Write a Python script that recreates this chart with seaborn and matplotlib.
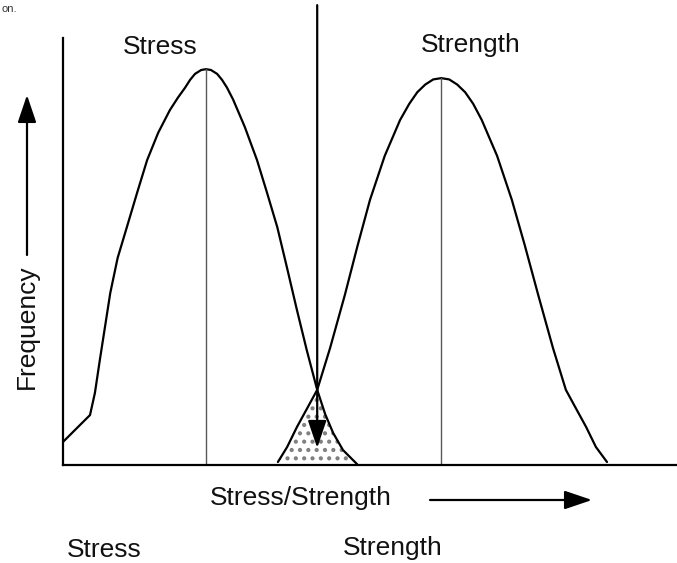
import numpy as np
import pandas as pd
import matplotlib
matplotlib.use("Agg")
import matplotlib.pyplot as plt
import seaborn as sns

# Stress distribution (x: stress/strength units, y: relative frequency)
stress_x = [0.0, 2.3, 4.4, 5.2, 6.0, 7.7, 8.9, 10.4, 12.1, 13.7, 15.5, 17.4, 18.7,
            19.9, 20.7, 21.5, 22.5, 23.3, 24.1, 25.1, 25.9, 26.7, 27.7, 29.6, 31.6,
            33.2, 34.9, 36.5, 38.1, 39.7, 41.4, 42.7, 44.0, 45.6, 47.2, 47.9]
stress_y = [5.4, 8.7, 11.7, 16.9, 24.6, 40.3, 48.5, 55.7, 63.9, 71.4, 77.8, 83.1, 86.0,
            88.4, 90.2, 91.6, 92.5, 92.7, 92.5, 91.6, 90.2, 88.4, 85.6, 79.2, 71.4,
            63.9, 55.7, 46.1, 36.3, 26.9, 17.6, 11.9, 7.5, 3.5, 1.2, 0.2]

# Strength distribution
strength_x = [35.0, 36.5, 38.1, 39.7, 41.4, 43.5, 45.9, 48.0, 50.0, 52.4, 54.9, 56.4,
              57.7, 59.0, 60.3, 61.6, 62.9, 64.2, 65.5, 66.8, 68.2, 70.7, 73.1, 75.2,
              77.4, 79.8, 81.9, 83.6, 85.2, 86.8, 88.6]
strength_y = [0.7, 4.2, 8.9, 13.1, 17.6, 27.4, 39.8, 51.5, 62.1, 72.4, 80.8, 84.6,
              87.3, 89.1, 90.3, 90.6, 90.3, 89.1, 87.3, 84.6, 80.8, 72.4, 62.1, 51.5,
              39.8, 27.4, 17.6, 13.1, 8.9, 4.2, 0.7]

stress_mean = 23.3
strength_mean = 61.6
threshold = 41.4

df = pd.concat([
    pd.DataFrame({"x": stress_x, "y": stress_y, "dist": "Stress"}),
    pd.DataFrame({"x": strength_x, "y": strength_y, "dist": "Strength"}),
])

sns.set_style("white")
plt.rcParams["font.family"] = ["Liberation Sans", "DejaVu Sans"]

W, H = 677, 563
fig = plt.figure(figsize=(W / 100, H / 100), dpi=100)
ax = fig.add_axes([63 / W, (H - 465) / H, (W - 63) / W, (465 - 38) / H])

sns.lineplot(data=df, x="x", y="y", units="dist", estimator=None, sort=False,
             color="black", linewidth=1.6, ax=ax, legend=False)
for ln in ax.get_lines():
    ln.set_solid_joinstyle("round")

# Overlap (interference) region
gx = np.linspace(min(strength_x), max(stress_x), 300)
gy = np.minimum(np.interp(gx, stress_x, stress_y), np.interp(gx, strength_x, strength_y))
plt.rcParams["hatch.linewidth"] = 1.8
ax.fill_between(gx, 0, gy, facecolor="white", edgecolor="0.5", linewidth=0,
                hatch="..", zorder=1)

# Mean lines
ax.plot([stress_mean, stress_mean], [0, max(stress_y)], color="0.35", lw=1.0)
ax.plot([strength_mean, strength_mean], [0, max(strength_y)], color="0.35", lw=1.0)

head = "-|>,head_length=0.65,head_width=0.22"

# Threshold line with arrow
ax.annotate("", xy=(threshold, 4.0), xytext=(threshold, 107.7),
            arrowprops=dict(arrowstyle=head, lw=1.6, color="black",
                            mutation_scale=26, shrinkA=0, shrinkB=0),
            annotation_clip=False, zorder=5)

ax.set_xlim(0, 100)
ax.set_ylim(0, 100)
ax.set_xticks([])
ax.set_yticks([])
ax.set_xlabel("")
ax.set_ylabel("")
for side in ("top", "right"):
    ax.spines[side].set_visible(False)
for side in ("left", "bottom"):
    ax.spines[side].set_color("black")
    ax.spines[side].set_linewidth(1.6)

fs = 19
def ftext(x, y, s, **kw):
    fig.text(x / W, (H - y) / H, s, fontsize=fs, color="#111111",
             ha="center", va="center", **kw)

ftext(160, 47, "Stress")
ftext(471, 45, "Strength")
ftext(301, 498, "Stress/Strength")
ftext(104, 550, "Stress")
ftext(393, 548, "Strength")
ftext(27, 327, "Frequency", rotation=90)
fig.text(1 / W, (H - 9) / H, "on.", fontsize=8, color="#333333", ha="left", va="center")

# Axis direction arrows
arrow = dict(arrowstyle=head, lw=1.6, color="black", mutation_scale=26,
             shrinkA=0, shrinkB=0)
ax.annotate("", xy=(27, H - 95), xytext=(27, H - 255), xycoords="figure pixels",
            textcoords="figure pixels", arrowprops=arrow, annotation_clip=False)
ax.annotate("", xy=(592, H - 500), xytext=(430, H - 500), xycoords="figure pixels",
            textcoords="figure pixels", arrowprops=arrow, annotation_clip=False)

fig.savefig("out.png", dpi=100, facecolor="white")
